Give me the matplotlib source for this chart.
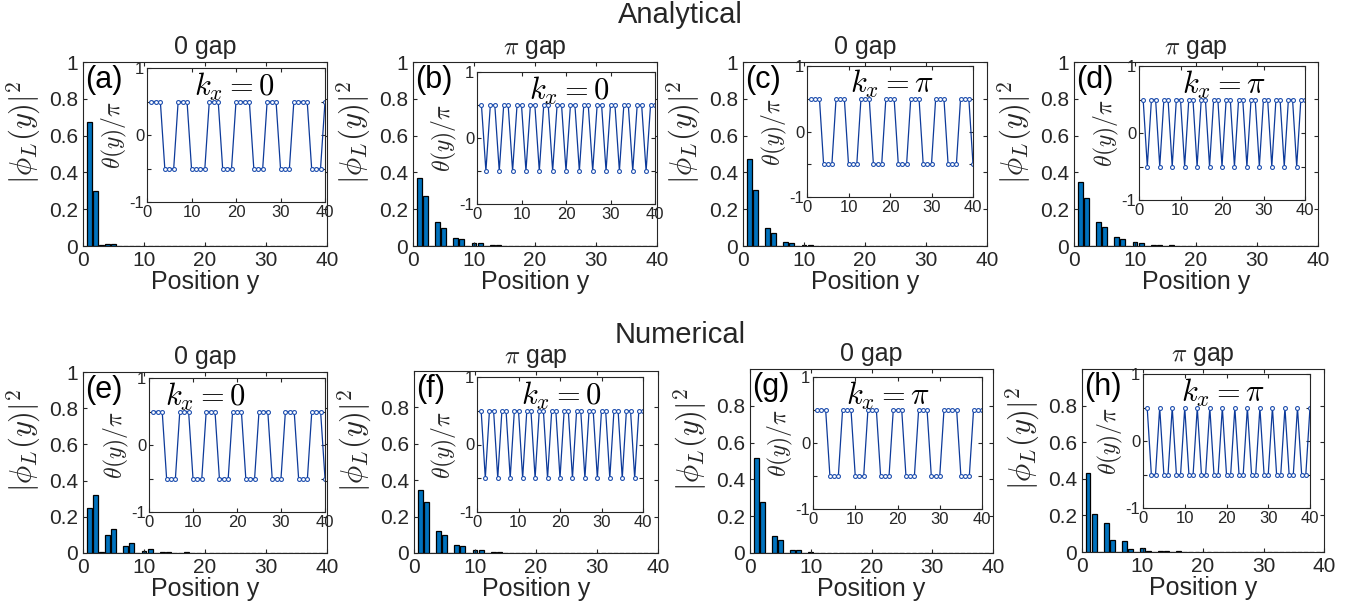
import matplotlib
matplotlib.use('Agg')
import matplotlib.pyplot as plt

plt.rcParams['font.family'] = ['Liberation Sans', 'DejaVu Sans']
plt.rcParams['mathtext.fontset'] = 'cm'

# bar heights |phi_L(y)|^2 for y = 1..40 (tail is ~0)
y_sites = list(range(1, 41))
phi_a = [0.672, 0.298, 0.004, 0.012, 0.011, 0.001, 0.0005, 0.0005, 0.0, 0.0,
         0.0, 0.0, 0.0, 0.0, 0.0, 0.0, 0.0, 0.0, 0.0, 0.0] + [0.0] * 20
phi_b = [0.371, 0.271, 0.0, 0.128, 0.099, 0.0, 0.045, 0.036, 0.0, 0.018,
         0.014, 0.0, 0.006, 0.005, 0.0, 0.002, 0.002, 0.0, 0.001, 0.001] + [0.0] * 20
phi_c = [0.473, 0.304, 0.0, 0.100, 0.073, 0.0, 0.024, 0.018, 0.0, 0.005,
         0.004, 0.0, 0.001, 0.001, 0.0, 0.0, 0.0, 0.0, 0.0, 0.0] + [0.0] * 20
phi_d = [0.349, 0.260, 0.0, 0.131, 0.104, 0.0, 0.049, 0.038, 0.0, 0.020,
         0.016, 0.0, 0.007, 0.006, 0.0, 0.003, 0.002, 0.0, 0.001, 0.001] + [0.0] * 20
phi_e = [0.250, 0.322, 0.005, 0.098, 0.131, 0.002, 0.037, 0.055, 0.001, 0.013,
         0.020, 0.0, 0.005, 0.008, 0.0, 0.002, 0.003, 0.0, 0.001, 0.001] + [0.0] * 20
phi_f = [0.347, 0.279, 0.0, 0.122, 0.100, 0.0, 0.042, 0.036, 0.0, 0.016,
         0.015, 0.0, 0.005, 0.005, 0.0, 0.002, 0.002, 0.0, 0.001, 0.001] + [0.0] * 20
phi_g = [0.515, 0.278, 0.0, 0.091, 0.069, 0.0, 0.016, 0.015, 0.0, 0.003,
         0.002, 0.0, 0.001, 0.001, 0.0, 0.0, 0.0, 0.0, 0.0, 0.0] + [0.0] * 20
phi_h = [0.430, 0.210, 0.0, 0.159, 0.064, 0.0, 0.060, 0.018, 0.0, 0.022,
         0.007, 0.0, 0.008, 0.003, 0.0, 0.003, 0.001, 0.0, 0.001, 0.0] + [0.0] * 20

# phase theta(y)/pi: '+' = 0.5, '-' = -0.5, for y = 1..40
theta_a = "+++---+++----+++---++++---+++---++++---+"
theta_b = "+-++-++-++-++-++-++-++-++-++-++-++-++-++"
theta_c = "+++---+++---+++---+++---+++---+++---+++-"
theta_d = "+-++-++-++-++-++-++-++-++-++-++-++-++-++"
theta_e = "+++---+++---+++---+++---+++---+++---+++-"
theta_f = "+-++-++-++-++-++-++-++-++-++-++-++-++-++"
theta_g = "+++---+++---+++---+++---+++---++++---+++"
theta_h = "+--+--+--+--+--+--+--+--+--+--+--+--+--+"

letters = ['(a)', '(b)', '(c)', '(d)', '(e)', '(f)', '(g)', '(h)']
titles = ['0 gap', r'$\pi$ gap', '0 gap', r'$\pi$ gap'] * 2
kx_text = [r'$k_x=0$', r'$k_x=0$', r'$k_x=\pi$', r'$k_x=\pi$'] * 2
phis = [phi_a, phi_b, phi_c, phi_d, phi_e, phi_f, phi_g, phi_h]
thetas = [theta_a, theta_b, theta_c, theta_d, theta_e, theta_f, theta_g, theta_h]

W, H = 1361, 610
# pixel boxes (left, top, right, bottom)
main_box = [(83, 62, 327, 246), (413, 62, 657, 246), (743, 62, 987, 246), (1074, 62, 1318, 246),
            (83, 372, 327, 553), (414, 371, 658, 553), (750, 369, 993, 553), (1082, 369, 1324, 552)]
inset_box = [(147, 68, 325, 202), (477, 72, 655, 204), (807, 66, 973, 197), (1139, 66, 1305, 200),
             (149, 378, 325, 512), (477, 377, 643, 512), (813, 377, 982, 509), (1143, 374, 1310, 508)]
kx_xpos = [0.49, 0.52, 0.51, 0.51, 0.32, 0.51, 0.445, 0.48]

txt = '#262626'


def rect(b):
    l, t, r, btm = b
    return [l / W, 1 - btm / H, (r - l) / W, (btm - t) / H]


fig = plt.figure(figsize=(W / 100, H / 100), dpi=100)

for i in range(8):
    ax = fig.add_axes(rect(main_box[i]))
    ax.bar(y_sites, phis[i], width=0.8, color='#0072BD', edgecolor='black', linewidth=0.9)
    ax.set_xlim(0, 40)
    ax.set_ylim(0, 1)
    ax.set_xticks([0, 10, 20, 30, 40])
    if i < 5:
        ax.set_yticks([0, 0.2, 0.4, 0.6, 0.8, 1])
        ax.set_yticklabels(['0', '0.2', '0.4', '0.6', '0.8', '1'])
    else:
        ax.set_yticks([0, 0.2, 0.4, 0.6, 0.8])
        ax.set_yticklabels(['0', '0.2', '0.4', '0.6', '0.8'])
    ax.tick_params(direction='in', top=True, right=True, labelsize=15, colors=txt, length=3)
    for s in ax.spines.values():
        s.set_color(txt)
    ax.set_xlabel('Position y', fontsize=18, color=txt, labelpad=0)
    ax.set_ylabel(r'$|\phi_L(y)|^2$', fontsize=22, color=txt)
    w_px = main_box[i][2] - main_box[i][0]
    ax.yaxis.set_label_coords(-40 / w_px, 0.62)
    ax.set_title(titles[i], fontsize=18, color=txt, pad=6)
    ax.text(0.01, 0.9, letters[i], transform=ax.transAxes, fontsize=22, va='center', ha='left', color='black')

    ins = fig.add_axes(rect(inset_box[i]))
    th = [0.5 if c == '+' else -0.5 for c in thetas[i]]
    ins.plot(y_sites, th, '-o', color='#0D3A9A', linewidth=0.9, markersize=2.8,
             markerfacecolor='white', markeredgecolor='#2050B0', markeredgewidth=0.8)
    ins.set_xlim(0, 40)
    ins.set_ylim(-1, 1)
    ins.set_xticks([0, 10, 20, 30, 40])
    ins.set_yticks([-1, -0.5, 0, 0.5, 1])
    ins.set_yticklabels(['-1', '', '0', '', '1'])
    ins.tick_params(direction='in', top=True, right=True, labelsize=12, colors=txt, length=3, pad=2)
    for s in ins.spines.values():
        s.set_color(txt)
    ins.set_ylabel(r'$\theta(y)/\pi$', fontsize=17, color=txt, labelpad=0)
    ins.text(kx_xpos[i], 0.86, kx_text[i], transform=ins.transAxes, fontsize=22,
             ha='center', va='center', color='black')

fig.text(680 / W, 1 - 15 / H, 'Analytical', fontsize=21, ha='center', va='center', color=txt)
fig.text(680 / W, 1 - 335 / H, 'Numerical', fontsize=21, ha='center', va='center', color=txt)

fig.savefig('out.png', dpi=100)
